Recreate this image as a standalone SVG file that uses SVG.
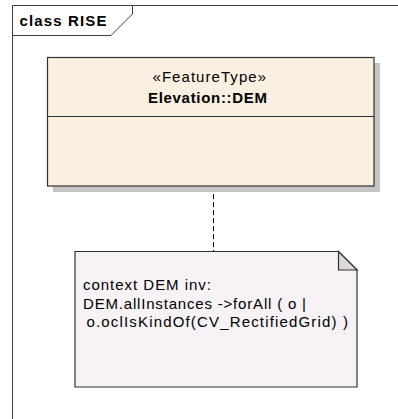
<svg xmlns="http://www.w3.org/2000/svg" width="398" height="419" viewBox="0 0 398 419">
  <style>
    text { font-family: "Liberation Sans", Arial, sans-serif; fill: #000; }
    .frame { fill: none; stroke: #404040; stroke-width: 1; }
    .cls { fill: #FAF0E1; stroke: #303030; stroke-width: 1.2; }
    .shadow { fill: #C4C4C4; }
    .note { fill: #F6F2F6; stroke: #303030; stroke-width: 1.2; }
    .fold { fill: #DCD8DC; stroke: #303030; stroke-width: 1.2; stroke-linejoin: miter; }
    .dep { fill: none; stroke: #000; stroke-width: 1; stroke-dasharray: 5 3; }
  </style>

  <rect width="398" height="419" fill="#FFFFFF"/>

  <!-- package frame with its name tab -->
  <g id="frame">
    <path class="frame" d="M12.5,420 V5.5 H400"/>
    <path class="frame" d="M12.5,35.5 H111 L132.5,14 V5.5"/>
    <text x="19.5" y="26" font-size="15" font-weight="bold" textLength="87" lengthAdjust="spacing">class RISE</text>
  </g>

  <!-- connectors -->
  <g id="connectors">
    <line class="dep" x1="213.5" y1="186" x2="213.5" y2="251"/>
  </g>

  <!-- feature type class -->
  <g id="dem">
    <rect class="shadow" x="53" y="63" width="327" height="129"/>
    <rect class="cls" x="47.5" y="57.5" width="326.5" height="128.5"/>
    <line x1="47.5" y1="116.5" x2="374" y2="116.5" stroke="#303030" stroke-width="1.2"/>
    <text x="152.5" y="82" font-size="15" textLength="113.5" lengthAdjust="spacing">«FeatureType»</text>
    <text x="148" y="102.5" font-size="15" font-weight="bold" textLength="119" lengthAdjust="spacing">Elevation::DEM</text>
  </g>

  <!-- OCL constraint note -->
  <g id="constraint">
    <path class="note" d="M75,251.5 H338.5 L357,270 V387 H75 Z"/>
    <path class="fold" d="M338.5,251.5 V270 H357 Z"/>
    <text font-size="15">
      <tspan x="83" y="290" textLength="128" lengthAdjust="spacing">context DEM inv:</tspan>
      <tspan x="83" y="308.5" textLength="223" lengthAdjust="spacing">DEM.allInstances -&gt;forAll ( o |</tspan>
      <tspan x="86.5" y="327" textLength="261.5" lengthAdjust="spacing">o.oclIsKindOf(CV_RectifiedGrid) )</tspan>
    </text>
  </g>
</svg>
